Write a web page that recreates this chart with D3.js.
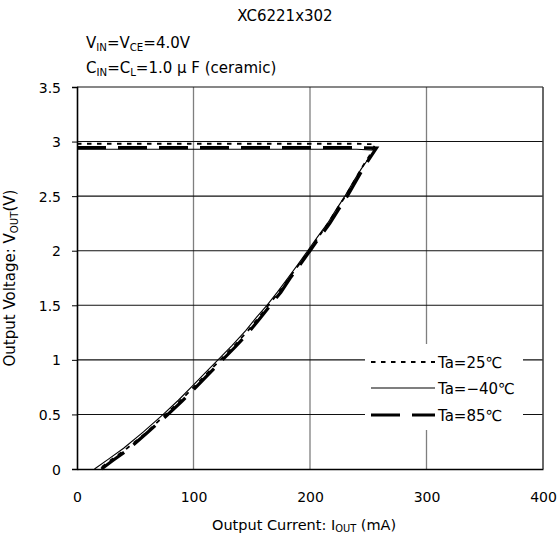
<!DOCTYPE html>
<html lang="en">
<head>
<meta charset="UTF-8">
<title>XC6221x302 Output Voltage vs Output Current</title>
<script src="https://d3js.org/d3.v7.min.js"></script>
<style>
    body { margin: 0; background: #fff; }
    svg text { font-family: "DejaVu Sans", "Noto Sans CJK JP", sans-serif; fill: #000; }
    .tick_label { font-size: 14px; }
    .legend_text { font-size: 15px; }
</style>
</head>
<body>
<svg id="chart" width="560" height="537"></svg>
<script>
    // axis ticks
    const currentTicks = [0, 100, 200, 300, 400];
    const voltageTicks = [0, 0.5, 1, 1.5, 2, 2.5, 3, 3.5];

    // Ta=25C (dotted)
    const ta25_I = [0, 60, 120, 180, 240, 256, 251, 245, 238, 231, 223, 216, 207, 199, 191, 182, 174, 165, 156, 147, 135, 123, 112, 102, 89, 76, 59, 43, 30, 19];
    const ta25_V = [2.98, 2.98, 2.98, 2.98, 2.98, 2.975, 2.87, 2.77, 2.64, 2.51, 2.38, 2.26, 2.12, 2.0, 1.88, 1.75, 1.63, 1.51, 1.39, 1.27, 1.13, 1.0, 0.88, 0.77, 0.63, 0.5, 0.33, 0.19, 0.09, 0];

    // Ta=-40C (solid)
    const taM40_I = [0, 60, 120, 180, 240, 256, 250, 244, 237, 230, 222, 215, 206, 198, 190, 181, 172, 163, 154, 145, 133, 121, 110, 100, 87, 74, 57, 40, 27, 15];
    const taM40_V = [2.93, 2.93, 2.93, 2.93, 2.93, 2.92, 2.84, 2.75, 2.63, 2.50, 2.37, 2.25, 2.12, 2.0, 1.88, 1.75, 1.62, 1.50, 1.39, 1.27, 1.13, 1.0, 0.88, 0.77, 0.63, 0.50, 0.34, 0.19, 0.09, 0];

    // Ta=85C (long dash)
    const ta85_I = [0, 60, 120, 180, 240, 257, 252, 246, 239, 232, 224, 217, 208, 200, 192, 183, 175, 166, 157, 148, 136, 124, 113, 103, 90, 77, 60, 44, 31, 21];
    const ta85_V = [2.945, 2.945, 2.945, 2.945, 2.945, 2.94, 2.86, 2.76, 2.63, 2.50, 2.37, 2.25, 2.12, 2.0, 1.88, 1.75, 1.62, 1.50, 1.38, 1.26, 1.12, 0.99, 0.87, 0.76, 0.62, 0.49, 0.33, 0.18, 0.08, 0];

    const seriesNames = ["Ta=25\u2103", "Ta=\u221240\u2103", "Ta=85\u2103"];

    const svg = d3.select("#chart");
    const margin = { left: 77, right: 17, top: 87, bottom: 68 };
    const W = 560, H = 537;

    const x = d3.scaleLinear().domain([0, 400]).range([margin.left, W - margin.right]);
    const y = d3.scaleLinear().domain([0, 3.5]).range([H - margin.bottom, margin.top]);

    // vertical grid (gray)
    svg.append("g")
        .selectAll("line")
        .data(currentTicks.slice(1))
        .enter().append("line")
        .attr("x1", d => x(d)).attr("x2", d => x(d))
        .attr("y1", y(0)).attr("y2", y(3.5))
        .attr("stroke", "#7f7f7f").attr("stroke-width", 1.3);

    // horizontal grid (black)
    svg.append("g")
        .selectAll("line")
        .data(voltageTicks.slice(1))
        .enter().append("line")
        .attr("x1", x(0)).attr("x2", x(400))
        .attr("y1", d => y(d)).attr("y2", d => y(d))
        .attr("stroke", "#111").attr("stroke-width", 1.1);

    // legend box hides the grid behind it
    svg.append("rect")
        .attr("x", 365).attr("y", 344)
        .attr("width", 158).attr("height", 86)
        .attr("fill", "#fff");

    // series
    const plot = svg.append("g");
    const line = d3.line().x(d => x(d[0])).y(d => y(d[1]));

    const seriesStyle = [
        { I: ta25_I, V: ta25_V, dash: "4.5,5.5", width: 1.8 },
        { I: taM40_I, V: taM40_V, dash: null, width: 1.1 },
        { I: ta85_I, V: ta85_V, dash: "29,12", width: 3.2 }
    ];

    seriesStyle.forEach(function (s) {
        plot.append("path")
            .attr("d", line(s.I.map((v, i) => [v, s.V[i]])))
            .attr("fill", "none")
            .attr("stroke", "#000")
            .attr("stroke-width", s.width)
            .attr("stroke-dasharray", s.dash);
    });

    // axes
    const yAxis = d3.axisLeft(y).tickValues(voltageTicks).tickSize(5).tickFormat(d3.format("~g"));
    const gy = svg.append("g").attr("transform", `translate(${x(0)},0)`).call(yAxis);
    gy.attr("font-family", null).attr("font-size", null);
    gy.select(".domain").attr("stroke", "#000").attr("stroke-width", 1.6);
    gy.selectAll(".tick line").attr("stroke", "#000");
    gy.selectAll(".tick text").attr("class", "tick_label").attr("x", -16).attr("dy", "0.36em");

    const xAxis = d3.axisBottom(x).tickValues(currentTicks).tickSize(0).tickFormat(d3.format("d"));
    const gx = svg.append("g").attr("transform", `translate(0,${y(0)})`).call(xAxis);
    gx.attr("font-family", null).attr("font-size", null);
    gx.select(".domain").attr("stroke", "#000").attr("stroke-width", 1.6);
    gx.selectAll(".tick text").attr("class", "tick_label").attr("y", 23).attr("dy", "0.71em");

    // right border
    svg.append("line")
        .attr("x1", x(400)).attr("x2", x(400))
        .attr("y1", y(0)).attr("y2", y(3.5))
        .attr("stroke", "#444").attr("stroke-width", 1.3);

    // legend
    const legend = svg.append("g");
    const legendY = [362, 388, 415];
    seriesStyle.forEach(function (s, i) {
        legend.append("line")
            .attr("x1", 371).attr("x2", 435)
            .attr("y1", legendY[i]).attr("y2", legendY[i])
            .attr("stroke", "#000")
            .attr("stroke-width", s.width)
            .attr("stroke-dasharray", s.dash);
        legend.append("text")
            .attr("class", "legend_text")
            .attr("x", 438).attr("y", legendY[i] + 5.5)
            .text(seriesNames[i]);
    });

    // title and conditions
    svg.append("text")
        .attr("x", 285).attr("y", 21)
        .attr("text-anchor", "middle")
        .attr("font-size", 15)
        .text("XC6221x302");

    function subText(g, parts, px, py, size, drop) {
        const t = g.append("text").attr("x", px).attr("y", py).attr("font-size", size);
        parts.forEach(function (p) {
            const ts = t.append("tspan").text(p[0]);
            if (p[1]) ts.attr("font-size", size * 0.68).attr("dy", drop);
            else if (p[2]) ts.attr("dy", -drop);
        });
        return t;
    }

    subText(svg, [["V"], ["IN", true], ["=V", false, true], ["CE", true], ["=4.0V", false, true]], 86, 48, 15, 3);
    subText(svg, [["C"], ["IN", true], ["=C", false, true], ["L", true], ["=1.0 \u03bc F (ceramic)", false, true]], 86, 73, 15, 3);

    // axis titles
    subText(svg, [["Output Current: I"], ["OUT", true], [" (mA)", false, true]], 212, 530, 14.5, 2);

    const yt = subText(svg, [["Output Voltage: V"], ["OUT", true], ["(V)", false, true]], 0, 0, 15, 3);
    yt.attr("text-anchor", "middle").attr("transform", "translate(15,278) rotate(-90)");
</script>
</body>
</html>
